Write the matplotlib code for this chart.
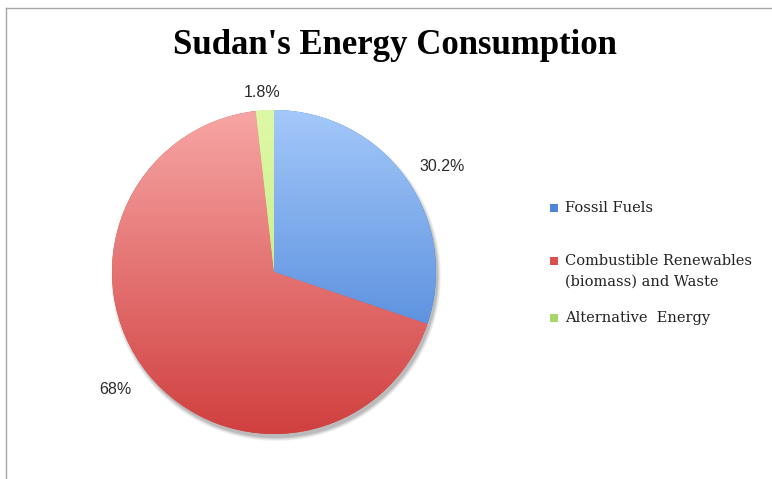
import numpy as np
import matplotlib.pyplot as plt
from matplotlib.patches import Circle, Rectangle
from matplotlib.colors import LinearSegmentedColormap

# data
labels = ["Fossil Fuels", "Combustible Renewables\n(biomass) and Waste", "Alternative  Energy"]
values = [30.2, 68.0, 1.8]
pct_text = ["30.2%", "68%", "1.8%"]
grad_top = ["#a4c8fa", "#f7a6a5", "#def9a6"]
grad_bot = ["#3a78d2", "#d0403f", "#b9e47a"]
legend_cols = ["#4a86da", "#d9504e", "#a9d66a"]

W, H = 772, 479
fig = plt.figure(figsize=(W / 100, H / 100), dpi=100)
ax = fig.add_axes([0, 0, 1, 1])

cx, cy, r = 274, H - 272, 162

# soft shadow
for k, a in enumerate([0.05, 0.06, 0.08, 0.1]):
    ax.add_patch(Circle((cx + 2, cy - 4), r + 3 - k, color="black", alpha=a, lw=0, zorder=1))

wedges, _ = ax.pie(values, center=(cx, cy), radius=r, startangle=90,
                   counterclock=False, wedgeprops=dict(lw=0))

grad = np.linspace(0, 1, 256).reshape(-1, 1)
for w, top, bot in zip(wedges, grad_top, grad_bot):
    w.set_facecolor(bot)
    w.set_zorder(2)
    cmap = LinearSegmentedColormap.from_list("g", [bot, top])
    im = ax.imshow(grad, cmap=cmap, extent=(cx - r, cx + r, cy - r, cy + r),
                   origin="lower", aspect="auto", zorder=3)
    im.set_clip_path(w)
ax.set_xlim(0, W)
ax.set_ylim(0, H)
ax.set_aspect("equal")
ax.axis("off")

# percentage labels
label_pos = [(442, 166), (115, 390), (262, 92)]
for (x, y), t in zip(label_pos, pct_text):
    ax.text(x, H - y, t, fontsize=11.5, family="Liberation Sans", color="#2a2a2a",
            ha="center", va="center")

ax.text(395, H - 45, "Sudan's Energy Consumption", fontsize=25, fontweight="bold",
        family="Liberation Serif", ha="center", va="center")

# legend
leg_y = [208, 261, 318]
for y, lab, c in zip(leg_y, labels, legend_cols):
    ax.add_patch(Rectangle((550, H - y - 4), 8, 8, color=c, lw=0))
    if "\n" in lab:
        ax.text(565, H - y + 7, lab, fontsize=10.5, family="DejaVu Serif", va="top",
                ha="left", color="#222222", linespacing=1.6)
    else:
        ax.text(565, H - y, lab, fontsize=10.5, family="DejaVu Serif", va="center",
                ha="left", color="#222222")

# chart border
ax.plot([6, 6], [0, H - 8], color="#a6a6a6", lw=1)
ax.plot([6, W], [H - 8, H - 8], color="#a6a6a6", lw=1)

fig.savefig("out.png", dpi=100)
